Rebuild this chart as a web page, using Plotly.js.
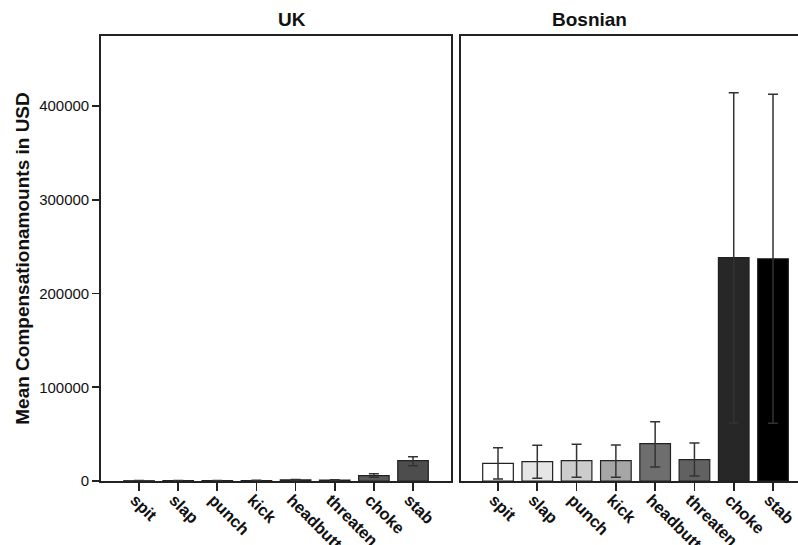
<!DOCTYPE html>
<html>
<head>
<meta charset="utf-8">
<script src="https://cdn.plot.ly/plotly-3.0.1.min.js"></script>
<style>html,body{margin:0;padding:0;background:#fff;}#chart{width:798px;height:545px;}</style>
</head>
<body>
<div id="chart"></div>
<script>
// Data
var categories = ["spit", "slap", "punch", "kick", "headbutt", "threaten", "choke", "stab"];
var ukMeans = [300, 400, 400, 500, 1200, 1000, 5700, 21700];
var ukErrPlus = [200, 200, 200, 200, 400, 400, 2100, 4300];
var ukErrMinus = [200, 200, 200, 200, 400, 400, 1800, 5400];
var bosMeans = [18900, 20600, 21700, 21700, 39800, 22700, 238200, 237100];
var bosErrPlus = [16600, 17500, 17400, 16800, 23500, 17800, 176000, 175400];
var bosErrMinus = [16800, 17700, 17800, 17800, 24900, 17400, 176300, 175400];
var ukColors = ["#f0f0f0", "#e6e6e6", "#d0d0d0", "#b0b0b0", "#909090", "#808080", "#5a5a5a", "#4d4d4d"];
var bosColors = ["#ffffff", "#e6e6e6", "#cccccc", "#a6a6a6", "#6e6e6e", "#616161", "#272727", "#000000"];

var errStyle = {type: "data", symmetric: false, color: "#333", thickness: 1.5, width: 5};

var traces = [
  {
    type: "bar", x: categories, y: ukMeans, xaxis: "x", yaxis: "y", width: 0.78,
    marker: {color: ukColors, line: {color: "#222", width: 1.2}},
    error_y: Object.assign({array: ukErrPlus, arrayminus: ukErrMinus}, errStyle),
    hoverinfo: "x+y", showlegend: false
  },
  {
    type: "bar", x: categories, y: bosMeans, xaxis: "x2", yaxis: "y2", width: 0.78,
    marker: {color: bosColors, line: {color: "#222", width: 1.2}},
    error_y: Object.assign({array: bosErrPlus, arrayminus: bosErrMinus}, errStyle),
    hoverinfo: "x+y", showlegend: false
  }
];

var yTop = 474700;
var fam = "Liberation Sans, Arial, sans-serif";
var tickFont = {family: fam, size: 15, color: "#111"};
var xTickFont = {family: fam, size: 16.5, color: "#111", weight: "bold"};

var xCommon = {
  type: "category", showline: true, linecolor: "#222", linewidth: 1.8, mirror: true,
  ticks: "outside", ticklen: 8, tickwidth: 1.8, tickcolor: "#222",
  tickangle: 45, tickfont: xTickFont, ticklabelstandoff: -7, ticklabelshift: -4,
  showgrid: false, zeroline: false, fixedrange: true
};

var layout = {
  width: 798, height: 545,
  margin: {l: 101, r: 0, t: 36, b: 64},
  paper_bgcolor: "#fff", plot_bgcolor: "#fff",
  xaxis: Object.assign({domain: [0, 0.5022], range: [-0.971, 7.971]}, xCommon),
  xaxis2: Object.assign({domain: [0.5165, 1], range: [-0.942, 7.636]}, xCommon),
  yaxis: {
    range: [0, yTop], tickvals: [0, 100000, 200000, 300000, 400000],
    ticktext: ["0", "100000", "200000", "300000", "400000"],
    showline: true, linecolor: "#222", linewidth: 1.8, mirror: true,
    ticks: "outside", ticklen: 7, tickwidth: 1.8, tickcolor: "#222",
    tickfont: tickFont, showgrid: false, zeroline: false, fixedrange: true,
    title: {text: "Mean Compensationamounts in USD", font: {family: fam, size: 19, color: "#111", weight: "bold"}, standoff: 4}
  },
  yaxis2: {
    anchor: "x2", range: [0, yTop], showticklabels: false,
    showline: true, linecolor: "#222", linewidth: 1.8, mirror: false,
    ticks: "", showgrid: false, zeroline: false, fixedrange: true
  },
  annotations: [
    {text: "UK", xref: "paper", yref: "paper", x: 0.2511, y: 1, yanchor: "middle", yshift: 17, showarrow: false,
     font: {family: fam, size: 19, color: "#111", weight: "bold"}},
    {text: "Bosnian", xref: "paper", yref: "paper", x: 0.7582, y: 1, yanchor: "middle", yshift: 17, showarrow: false,
     font: {family: fam, size: 19, color: "#111", weight: "bold"}}
  ]
};

Plotly.newPlot("chart", traces, layout, {displayModeBar: false, staticPlot: true});
</script>
</body>
</html>
